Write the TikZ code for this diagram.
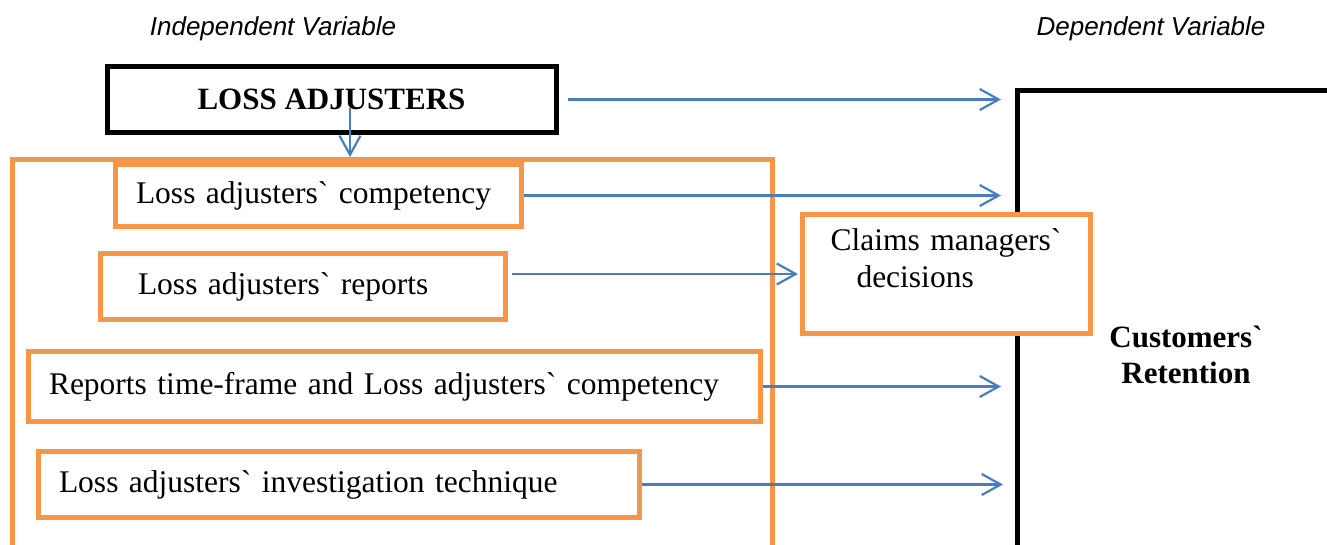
\documentclass[tikz,border=0pt]{standalone}
\usepackage{fontspec}
\setmainfont{Liberation Serif}
\newfontfamily\headfont{Liberation Sans}
\usetikzlibrary{arrows.meta}
\definecolor{boxorange}{RGB}{247,150,70}
\definecolor{arrowblue}{RGB}{74,126,187}
\newcommand{\grv}{\textasciigrave}

\begin{document}
\begin{tikzpicture}[x=1pt,y=-1pt,
   obox/.style={draw=boxorange, line width=5pt, fill=white, anchor=north west,
     align=left, font=\fontsize{31.5}{37}\selectfont},
   kbox/.style={draw=black, line width=5pt, fill=white},
   arr/.style={draw=arrowblue, line width=2.2pt,
     -{Straight Barb[length=19pt,width=21pt,line width=2.2pt]}},
   head/.style={font=\headfont\itshape\fontsize{26}{30}\selectfont}]
   \clip (0,0) rectangle (1327,544);

   \node[head] (indep) at (273,29) {Independent Variable};
   \node[head] (dep) at (1151,29) {Dependent Variable};

   \node[kbox, minimum width=449pt, minimum height=66pt,
     font=\bfseries\fontsize{31}{37}\selectfont] (la) at (331.5,99.5) {LOSS ADJUSTERS};

   \node[kbox, minimum width=337pt, minimum height=529pt, align=center,
     font=\bfseries\fontsize{31}{36}\selectfont] (cr) at (1186,355) {Customers\grv\\Retention};

   \node[draw=boxorange, line width=5pt, anchor=north west,
     minimum width=760pt, minimum height=450pt] (grp) at (10,157) {};

   \node[obox, minimum width=406pt, minimum height=62pt, inner xsep=20.5pt, text width=365pt]
     (comp) at (113,162) {Loss adjusters\grv{} competency};
   \node[obox, minimum width=405pt, minimum height=66pt, inner xsep=37.5pt, text width=330pt]
     (rep) at (98,251) {Loss adjusters\grv{} reports};
   \node[obox, minimum width=732pt, minimum height=70pt, inner xsep=20.5pt, text width=691pt]
     (tf) at (26,349) {Reports time-frame and Loss adjusters\grv{} competency};
   \node[obox, minimum width=601pt, minimum height=66pt, inner xsep=20.5pt, text width=560pt]
     (inv) at (36,449) {Loss adjusters\grv{} investigation technique};

   \node[obox, minimum width=288pt, minimum height=119pt, inner xsep=28pt, text width=232pt,
     text depth=68pt] (cm) at (800,212) {Claims managers\grv\\\hspace*{26pt}decisions};

   \draw[arr] ([xshift=9pt]la.east) -- ([xshift=-14pt]la.east -| cr.west);
   \draw[arr] ([xshift=18.5pt,yshift=-8pt]la.center) -- ([xshift=18.5pt]la.center |- grp.north);
   \draw[arr] (comp.east) -- ([xshift=-14pt]comp.east -| cr.west);
   \draw[arr] ([xshift=4pt]rep.east |- cm.west) -- ([xshift=-2pt]cm.west);
   \draw[arr] (tf.east) -- ([xshift=-14pt]tf.east -| cr.west);
   \draw[arr] (inv.east) -- ([xshift=-12pt]inv.east -| cr.west);
\end{tikzpicture}
\end{document}
